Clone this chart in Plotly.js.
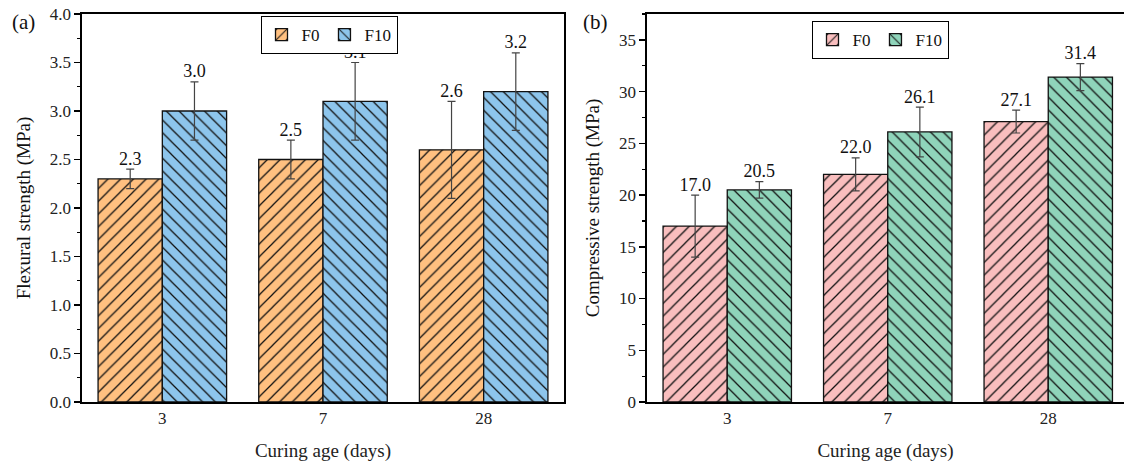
<!DOCTYPE html>
<html>
<head>
<meta charset="utf-8">
<script src="https://cdn.plot.ly/plotly-3.0.1.min.js"></script>
<style>html,body{margin:0;padding:0;overflow:hidden;background:#fff;}#chart{width:1124px;height:463px;}</style>
</head>
<body>
<div id="chart"></div>
<script>
// Data
const ageLabels = ['3', '7', '28'];
const flexF0 = [2.3, 2.5, 2.6];
const flexF0Err = [0.1, 0.2, 0.5];
const flexF10 = [3.0, 3.1, 3.2];
const flexF10Err = [0.3, 0.4, 0.4];
const compF0 = [17.0, 22.0, 27.1];
const compF0Err = [3.0, 1.6, 1.1];
const compF10 = [20.5, 26.1, 31.4];
const compF10Err = [0.8, 2.4, 1.3];

const W = 1124, H = 463;
const font = '"Liberation Serif", "Times New Roman", Times, serif';
const idx = ageLabels.map((_, i) => i);

function barTrace(name, y, err, color, shape, xa, ya, legend) {
  return {
    type: 'bar', name: name, x: idx, y: y, xaxis: xa, yaxis: ya, legend: legend,
    marker: {color: color, line: {color: '#111', width: 1.3},
      pattern: {shape: shape, fgcolor: '#111', bgcolor: color, size: 9, solidity: 0.14}},
    error_y: {type: 'data', array: err, visible: true, color: '#444', thickness: 1.2, width: 4},
    hoverinfo: 'skip'
  };
}
function labelTrace(y, err, shift, xa, ya) {
  return {
    type: 'scatter', mode: 'text', x: idx.map(i => i + shift),
    y: y.map((v, i) => v + err[i]), text: y.map(v => v.toFixed(1)),
    textposition: 'top center', textfont: {family: font, size: 18, color: '#111'},
    xaxis: xa, yaxis: ya, showlegend: false, hoverinfo: 'skip', cliponaxis: false
  };
}

const data = [
  barTrace('F0', flexF0, flexF0Err, '#FFC080', '/', 'x', 'y', 'legend'),
  barTrace('F10', flexF10, flexF10Err, '#8DC5EC', '\\', 'x', 'y', 'legend'),
  barTrace('F0', compF0, compF0Err, '#F9BEBE', '/', 'x2', 'y2', 'legend2'),
  barTrace('F10', compF10, compF10Err, '#8FD4BA', '\\', 'x2', 'y2', 'legend2'),
  labelTrace(flexF0, flexF0Err, -0.2, 'x', 'y'),
  labelTrace(flexF10, flexF10Err, 0.2, 'x', 'y'),
  labelTrace(compF0, compF0Err, -0.2, 'x2', 'y2'),
  labelTrace(compF10, compF10Err, 0.2, 'x2', 'y2')
];

const ydom = [1 - 402 / H, 1 - 14 / H];
// one category spans 160.5 px; the right panel is cut by the page edge
const catPx = 160.5;
const xAxisBase = {
  tickvals: idx, ticktext: ageLabels, ticks: '',
  showline: true, linecolor: '#000', linewidth: 1.6, mirror: true, showgrid: false, zeroline: false,
  tickfont: {family: font, size: 17, color: '#222'},
  title: {text: 'Curing age (days)', font: {family: font, size: 19, color: '#222'}, standoff: 16}
};
function yAxis(range, dtick, minor, title, anchor, mirror) {
  return {
    range: range, dtick: dtick, ticks: 'outside', ticklen: 6, tickwidth: 1.4, tickcolor: '#000',
    minor: {dtick: minor, ticks: 'outside', ticklen: 3, tickwidth: 1.2, tickcolor: '#000'},
    showline: true, linecolor: '#000', linewidth: 1.6, mirror: mirror, showgrid: false, zeroline: false,
    tickfont: {family: font, size: 17, color: '#222'}, domain: ydom, anchor: anchor,
    title: {text: title, font: {family: font, size: 19, color: '#111'}, standoff: 14}
  };
}

const layout = {
  width: W, height: H, margin: {l: 0, r: 0, t: 0, b: 0},
  paper_bgcolor: '#fff', plot_bgcolor: '#fff',
  barmode: 'group', bargap: 0.2, bargroupgap: 0,
  xaxis: Object.assign({}, xAxisBase, {domain: [82 / W, 564 / W], anchor: 'y', range: [-0.5, 2.5]}),
  xaxis2: Object.assign({}, xAxisBase, {domain: [647 / W, 1], anchor: 'y2',
    range: [-0.5, -0.5 + (W - 647) / catPx]}),
  yaxis: Object.assign(yAxis([0, 4.0], 0.5, 0.25, 'Flexural strength (MPa)', 'x', true), {tickformat: '.1f'}),
  yaxis2: yAxis([0, 37.5], 5, 2.5, 'Compressive strength (MPa)', 'x2', false),
  legend: {orientation: 'h', x: 329 / W, y: 1 - 16 / H, xanchor: 'center', yanchor: 'top',
    bordercolor: '#000', borderwidth: 1, bgcolor: '#fff', font: {family: font, size: 17, color: '#111'},
    itemwidth: 30, tracegroupgap: 0},
  legend2: {orientation: 'h', x: 880 / W, y: 1 - 21 / H, xanchor: 'center', yanchor: 'top',
    bordercolor: '#000', borderwidth: 1, bgcolor: '#fff', font: {family: font, size: 17, color: '#111'},
    itemwidth: 30, tracegroupgap: 0},
  annotations: [
    {text: '(a)', xref: 'paper', yref: 'paper', x: 10 / W, y: 1 - 8 / H, xanchor: 'left', yanchor: 'top',
      showarrow: false, font: {family: font, size: 21, color: '#111'}},
    {text: '(b)', xref: 'paper', yref: 'paper', x: 581 / W, y: 1 - 8 / H, xanchor: 'left', yanchor: 'top',
      showarrow: false, font: {family: font, size: 21, color: '#111'}}
  ]
};

Plotly.newPlot('chart', data, layout, {displayModeBar: false, staticPlot: true});
</script>
</body>
</html>
